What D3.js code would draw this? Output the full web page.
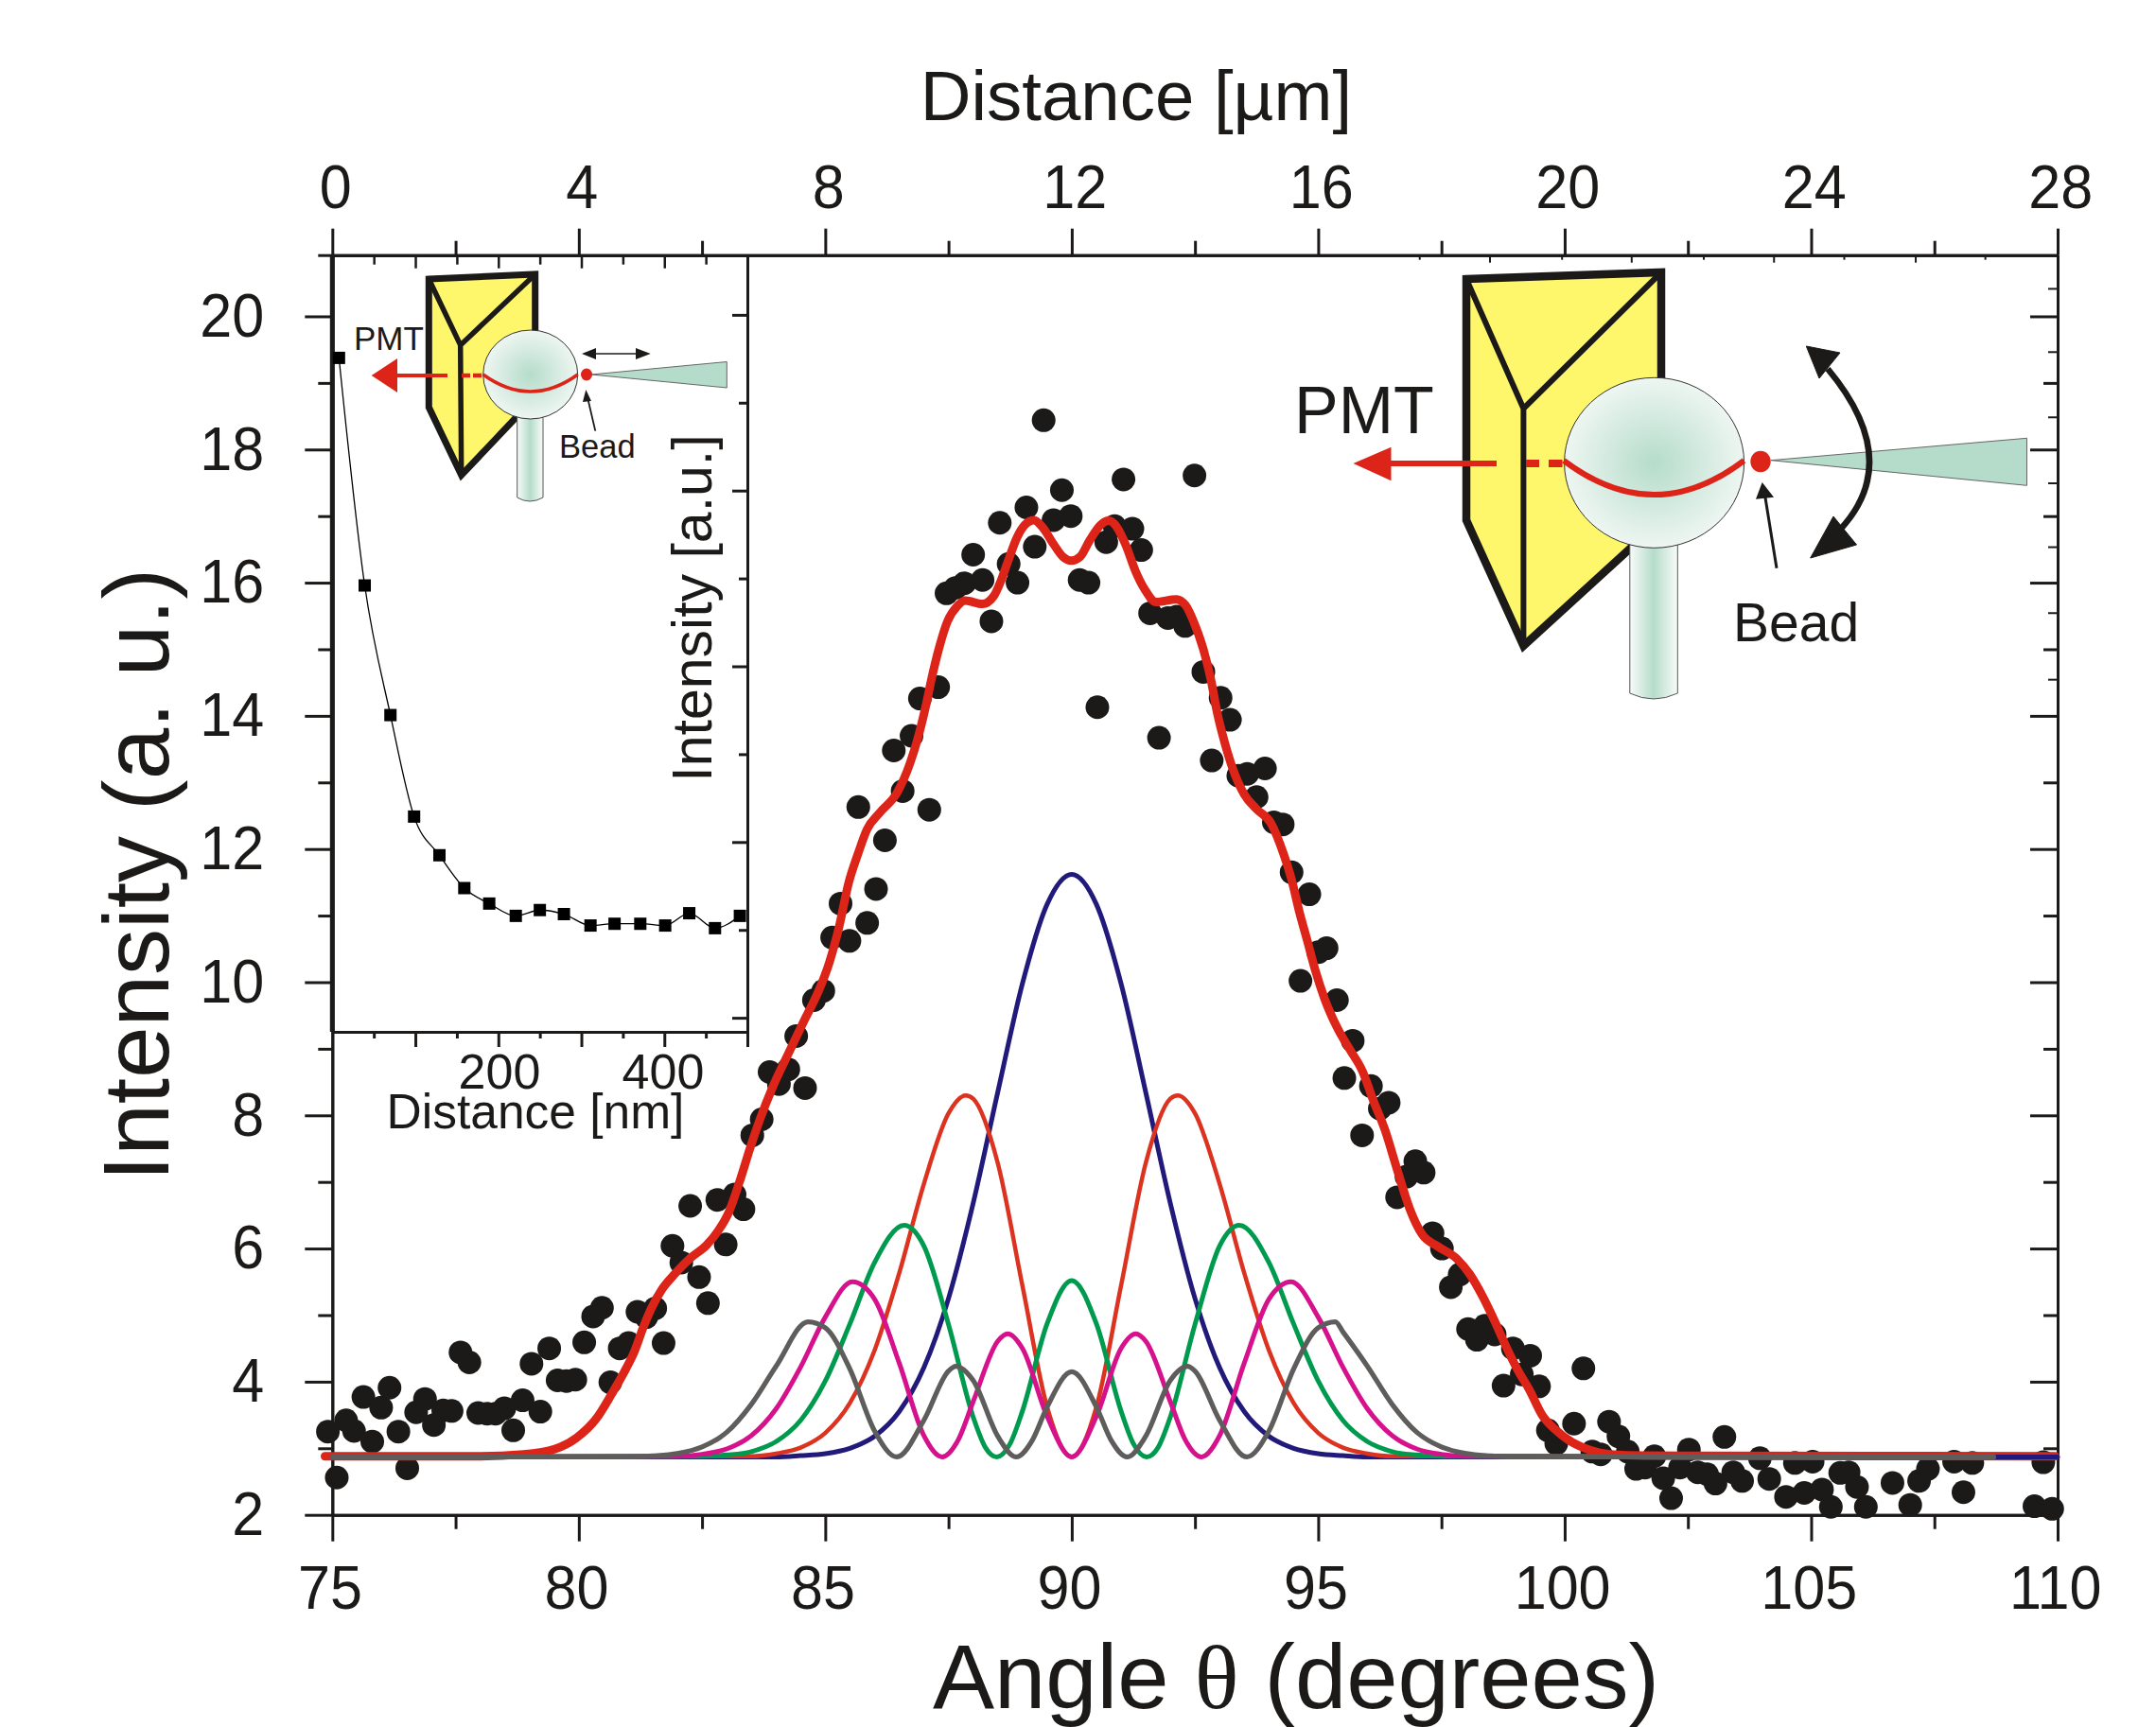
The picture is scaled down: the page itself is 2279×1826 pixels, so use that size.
<!DOCTYPE html>
<html>
<head>
<meta charset="utf-8">
<script src="https://cdn.jsdelivr.net/npm/d3@7/dist/d3.min.js"></script>
<style>
html, body { margin: 0; padding: 0; background: #fff; }
svg { display: block; }
text { font-family: "Liberation Sans", Arial, sans-serif; fill: #1c1a18; }
</style>
</head>
<body>
<svg id="plot" width="2279" height="1826"></svg>
<script>
// tick labels
const angleTicks = [75, 80, 85, 90, 95, 100, 105, 110];
const angleMinorTicks = [77.5, 82.5, 87.5, 92.5, 97.5, 102.5, 107.5];
const distanceTicks = [0, 4, 8, 12, 16, 20, 24, 28];
const distanceMinorTicks = [2, 6, 10, 14, 18, 22, 26];
const intensityTicks = [2, 4, 6, 8, 10, 12, 14, 16, 18, 20];
const intensityMinorTicks = [3, 5, 7, 9, 11, 13, 15, 17, 19];
const insetLongTicks = [100, 200, 300, 400, 500];
const insetShortTicks = [50, 150, 250, 350, 450];
const insetRightLong = [0, 2, 4, 6, 8];
const insetRightShort = [1, 3, 5, 7];
// second set of short ticks left over inside the frame
const ghostRightTicks = [20.42, 19.47, 18.49, 17.5, 16.54, 15.55, 14.55];
const ghostTopLong = [18.78, 21.08, 23.39, 25.69];
const ghostTopShort = [17.64, 19.95, 22.25, 24.53, 26.82];

// measured points
const scatterAngle = [74.91,75.09,75.28,75.44,75.63,75.81,75.99,76.16,76.34,76.52,76.70,76.88,77.06,77.25,77.42,77.60,77.78,77.96,78.14,78.31,78.49,78.67,78.86,79.04,79.22,79.40,79.57,79.75,79.93,80.11,80.29,80.47,80.64,80.83,81.01,81.19,81.37,81.55,81.72,81.90,82.08,82.26,82.44,82.62,82.81,82.98,83.16,83.34,83.52,83.71,83.87,84.06,84.25,84.41,84.59,84.77,84.96,85.14,85.31,85.49,85.67,85.85,86.03,86.21,86.39,86.57,86.75,86.92,87.11,87.29,87.46,87.64,87.82,88.0,88.19,88.37,88.54,88.72,88.90,89.08,89.25,89.43,89.63,89.80,89.98,90.16,90.34,90.52,90.70,90.87,91.05,91.23,91.41,91.59,91.77,91.95,92.13,92.3,92.49,92.67,92.84,93.02,93.21,93.38,93.56,93.75,93.92,94.1,94.28,94.46,94.64,94.82,95.0,95.17,95.38,95.53,95.70,95.89,96.07,96.25,96.43,96.6,96.79,96.97,97.14,97.32,97.51,97.69,97.87,98.04,98.22,98.38,98.58,98.76,98.95,99.13,99.3,99.48,99.66,99.83,100.19,100.38,100.56,100.73,100.9,101.09,101.28,101.45,101.63,101.82,102.0,102.16,102.34,102.52,102.7,102.89,103.06,103.24,103.42,103.6,103.96,104.15,104.49,104.67,104.86,105.03,105.22,105.4,105.59,105.76,105.93,106.11,106.65,107.01,107.19,107.37,107.9,108.09,108.27,109.53,109.71,109.89];
const scatterValue = [3.25,2.56,3.42,3.26,3.77,3.10,3.61,3.91,3.25,2.70,3.54,3.74,3.35,3.57,3.56,4.44,4.29,3.53,3.52,3.52,3.60,3.27,3.72,4.27,3.55,4.50,4.02,4.01,4.03,4.59,4.98,5.11,3.99,4.50,4.58,5.05,4.97,5.10,4.58,6.04,5.79,6.64,5.57,5.18,6.73,6.06,6.81,6.59,7.70,7.94,8.65,8.47,8.69,9.19,8.41,9.73,9.87,10.67,11.18,10.62,12.63,10.89,11.40,12.13,13.48,12.87,13.70,14.26,12.59,14.43,15.84,15.92,15.99,16.42,16.04,15.42,16.90,16.28,16.0,17.13,16.54,18.44,16.94,17.39,17.0,16.04,16.0,14.13,16.61,16.85,17.55,16.81,16.49,15.54,13.67,15.47,15.49,15.35,17.61,14.66,13.33,14.27,13.94,13.1,13.13,12.78,13.21,12.4,12.37,11.65,10.02,11.32,10.45,10.51,9.73,8.56,9.12,7.70,8.44,8.1,8.19,6.77,7.08,7.31,7.14,6.23,6.0,5.42,5.61,4.79,4.63,4.84,4.71,3.94,4.50,4.11,4.39,3.93,3.27,3.07,3.37,4.2,2.95,2.91,3.4,3.18,2.95,2.69,2.71,2.88,2.55,2.25,2.71,2.98,2.64,2.61,2.47,3.17,2.64,2.51,2.85,2.54,2.27,2.78,2.33,2.80,2.38,2.12,2.63,2.64,2.42,2.12,2.48,2.15,2.51,2.69,2.80,2.34,2.78,2.13,2.79,2.09];

// thick red sum curve
const fitAngle = [74.85,77.85,78.88,79.52,79.96,80.35,80.67,80.96,81.12,81.31,81.47,81.69,81.95,82.27,82.59,82.84,83.04,83.26,83.48,83.68,83.93,84.22,84.57,84.86,85.08,85.28,85.47,85.66,85.85,86.11,86.46,86.72,86.88,87.04,87.16,87.32,87.48,87.68,87.84,88.19,88.42,88.57,88.73,88.89,89.05,89.23,89.4,89.63,89.82,89.99,90.17,90.36,90.59,90.75,90.91,91.1,91.29,91.48,91.71,92.12,92.31,92.47,92.67,92.83,92.95,93.11,93.27,93.5,93.75,94.04,94.3,94.46,94.62,94.78,94.94,95.13,95.39,95.64,95.9,96.12,96.35,96.6,96.86,97.11,97.43,97.82,98.07,98.33,98.58,98.81,99.03,99.29,99.55,99.81,100.15,100.49,100.92,101.6,109.95];
const fitValue = [2.88,2.88,2.91,2.99,3.16,3.44,3.82,4.2,4.44,4.82,5.10,5.39,5.62,5.86,6.05,6.28,6.54,7.0,7.52,7.95,8.42,8.88,9.42,9.86,10.29,10.83,11.48,11.92,12.3,12.55,12.85,13.29,13.67,14.15,14.57,15.05,15.42,15.65,15.73,15.68,15.8,16.04,16.37,16.68,16.87,16.94,16.84,16.58,16.39,16.33,16.39,16.63,16.87,16.93,16.84,16.56,16.18,15.9,15.71,15.75,15.66,15.42,15.0,14.52,14.05,13.58,13.2,12.82,12.6,12.39,11.92,11.54,11.05,10.62,10.18,9.75,9.31,8.99,8.66,8.22,7.79,7.19,6.59,6.21,6.03,5.84,5.62,5.29,4.91,4.53,4.2,3.87,3.49,3.28,3.09,2.98,2.91,2.89,2.88];

// thin component curves
const blueAngle = [75,84,84.5,85,85.5,86,86.5,87,87.5,88,88.5,89,89.5,90,90.5,91,91.5,92,92.5,93,93.5,94,94.5,95,95.5,96,110];
const blueValue = [2.87,2.87,2.89,2.92,3.0,3.18,3.55,4.21,5.25,6.68,8.35,9.98,11.17,11.62,11.17,9.98,8.35,6.68,5.25,4.21,3.55,3.18,3.0,2.92,2.89,2.87,2.87];

const redAngle = [75,83.5,84,84.5,85,85.5,86,86.5,87,87.5,87.85,88,88.5,89,89.5,90,90.5,91,91.5,92,92.15,92.5,93,93.5,94,94.5,95,95.5,96,96.5,108.7];
const redValue = [2.87,2.88,2.92,3.01,3.23,3.68,4.47,5.63,6.97,8.03,8.3,8.25,7.28,5.44,3.62,2.87,3.62,5.44,7.28,8.25,8.3,8.03,6.97,5.63,4.47,3.68,3.23,3.01,2.92,2.88,2.87];

const greenAngle = [75,82.5,83,83.5,84,84.5,85,85.5,86,86.6,87,87.5,88,88.25,88.48,88.75,89,89.5,90,90.5,91,91.25,91.52,91.75,92,92.5,93,93.4,94,94.5,95,95.5,96,96.5,97,97.5,108.7];
const greenValue = [2.87,2.88,2.90,2.95,3.10,3.42,4.01,4.87,5.79,6.35,6.04,4.86,3.47,3.01,2.87,3.07,3.56,4.87,5.52,4.87,3.56,3.07,2.87,3.01,3.47,4.86,6.04,6.35,5.79,4.87,4.01,3.42,3.10,2.95,2.90,2.88,2.87];

const magentaAngle = [75,82,82.5,83,83.5,84,84.5,85,85.55,86,86.5,87,87.37,87.7,88,88.5,88.7,89,89.5,90,90.5,91,91.3,91.5,92,92.3,92.63,93,93.5,94,94.45,95,95.5,96,96.5,97,97.5,98,108.7];
const magentaValue = [2.87,2.88,2.91,2.99,3.19,3.59,4.22,4.97,5.5,5.24,4.28,3.19,2.87,3.13,3.70,4.61,4.72,4.50,3.48,2.87,3.48,4.50,4.72,4.61,3.70,3.13,2.87,3.19,4.28,5.24,5.5,4.97,4.22,3.59,3.19,2.99,2.91,2.88,2.87];

const grayAngle = [75,81,81.5,82,82.5,83,83.5,84,84.65,85,85.5,86,86.45,87,87.5,87.65,88,88.5,88.87,89.2,89.5,90,90.5,90.8,91.13,91.5,92,92.35,92.5,93,93.55,94,94.5,95,95.35,95.5,96,96.5,97,97.5,98,98.5,99,108.7];
const grayValue = [2.87,2.87,2.885,2.92,3.02,3.24,3.66,4.23,4.9,4.81,4.19,3.26,2.87,3.42,4.16,4.23,4.02,3.18,2.87,3.12,3.62,4.15,3.62,3.12,2.87,3.18,4.02,4.23,4.16,3.42,2.87,3.26,4.19,4.81,4.9,4.75,4.23,3.66,3.24,3.02,2.92,2.885,2.87,2.87];

// inset points
const insetX = [8,39,70,98.5,129,159,189,221,250,279,311,340,371,401,430,461,491];
const insetY = [7.51,4.92,3.445,2.29,1.85,1.476,1.30,1.16,1.226,1.18,1.05,1.07,1.07,1.05,1.19,1.02,1.16];

const ink = "#1c1a18";
const svg = d3.select("#plot");

const x = d3.scaleLinear().domain([75, 110]).range([351.3, 2175]);
const xTop = d3.scaleLinear().domain([0, 28]).range([351.3, 2175]);
const y = d3.scaleLinear().domain([2, 20.92]).range([1601.7, 269.7]);
const xIn = d3.scaleLinear().domain([0, 500]).range([351.3, 790]);
const yIn = d3.scaleLinear().domain([-0.16, 8.68]).range([1091, 269.7]);

function drawAxis(gen, tx, ty, width) {
    const g = svg.append("g").attr("transform", `translate(${tx},${ty})`).call(gen);
    g.selectAll("line").attr("stroke", ink).attr("stroke-width", width);
    g.select(".domain").attr("stroke", ink).attr("stroke-width", width);
    return g;
}
function noLabels(gen) { return gen.tickFormat("").tickSizeOuter(0); }
// the reference digits are a bit narrower than the font
function styleTicks(sel) {
    sel.attr("font-size", 65).attr("transform", "scale(0.94,1)");
}

// main frame
const bottom = drawAxis(d3.axisBottom(x).tickValues(angleTicks).tickSize(28).tickSizeOuter(0), 0, 1601.7, 3);
bottom.selectAll("text").attr("y", 99.5).attr("dy", 0).attr("dx", -3).call(styleTicks);
drawAxis(noLabels(d3.axisBottom(x).tickValues(angleMinorTicks).tickSize(15)), 0, 1601.7, 3);

const topAxis = drawAxis(d3.axisTop(xTop).tickValues(distanceTicks).tickSize(28).tickSizeOuter(0), 0, 269.7, 3);
topAxis.selectAll("text").attr("y", -50).attr("dy", 0).attr("dx", 3).call(styleTicks);
drawAxis(noLabels(d3.axisTop(xTop).tickValues(distanceMinorTicks).tickSize(15)), 0, 269.7, 3);
drawAxis(noLabels(d3.axisBottom(xTop).tickValues(ghostTopLong).tickSize(8)), 0, 269.7, 2);
drawAxis(noLabels(d3.axisBottom(xTop).tickValues(ghostTopShort).tickSize(5)), 0, 269.7, 2);

const left = drawAxis(d3.axisLeft(y).tickValues(intensityTicks).tickSize(29).tickSizeOuter(0), 351.3, 0, 3);
left.selectAll("text").attr("x", -76.6).call(styleTicks);
drawAxis(noLabels(d3.axisLeft(y).tickValues(intensityMinorTicks.concat([20.92])).tickSize(15)), 351.3, 0, 3);

drawAxis(noLabels(d3.axisLeft(y).tickValues(intensityTicks).tickSize(29)), 2175, 0, 3);
drawAxis(noLabels(d3.axisLeft(y).tickValues(intensityMinorTicks).tickSize(15)), 2175, 0, 3);
drawAxis(noLabels(d3.axisLeft(y).tickValues(ghostRightTicks).tickSize(10)), 2175, 0, 2);

// axis titles
svg.append("text").attr("x", 986).attr("y", 1806).attr("font-size", 96)
    .attr("textLength", 768).attr("lengthAdjust", "spacingAndGlyphs")
    .html('Angle <tspan style="font-family:\'Liberation Serif\',serif">θ</tspan> (degrees)');
svg.append("text").attr("transform", "translate(178,925) rotate(-90)").attr("text-anchor", "middle")
    .attr("font-size", 98).text("Intensity (a. u.)");
svg.append("text").attr("x", 1201).attr("y", 127).attr("text-anchor", "middle")
    .attr("font-size", 74.4).text("Distance [µm]");

// inset frame
drawAxis(noLabels(d3.axisBottom(xIn).tickValues(insetLongTicks).tickSize(16)), 0, 1091, 3);
drawAxis(noLabels(d3.axisBottom(xIn).tickValues(insetShortTicks).tickSize(7)), 0, 1091, 3);
drawAxis(noLabels(d3.axisBottom(xIn).tickValues(insetLongTicks).tickSize(14)), 0, 269.7, 2.5);
drawAxis(noLabels(d3.axisBottom(xIn).tickValues(insetShortTicks).tickSize(10)), 0, 269.7, 2.5);
drawAxis(noLabels(d3.axisLeft(yIn).tickValues(insetRightLong).tickSize(16)), 790, 0, 3);
drawAxis(noLabels(d3.axisLeft(yIn).tickValues(insetRightShort).tickSize(9)), 790, 0, 3);
svg.append("line").attr("x1", 351.3).attr("x2", 351.3).attr("y1", 269.7).attr("y2", 1091)
    .attr("stroke", ink).attr("stroke-width", 5);

svg.append("text").attr("x", 528).attr("y", 1151).attr("text-anchor", "middle").attr("font-size", 52).text("200");
svg.append("text").attr("x", 701).attr("y", 1151).attr("text-anchor", "middle").attr("font-size", 52).text("400");
svg.append("text").attr("x", 566).attr("y", 1193).attr("text-anchor", "middle").attr("font-size", 51.5).text("Distance [nm]");
svg.append("text").attr("transform", "translate(752,643) rotate(-90)").attr("text-anchor", "middle")
    .attr("font-size", 59).text("Intensity [a.u.]");

// inset data
const insetLine = d3.line().x((d, i) => xIn(insetX[i])).y(d => yIn(d)).curve(d3.curveMonotoneX);
svg.append("path").attr("d", insetLine(insetY)).attr("fill", "none").attr("stroke", "#000").attr("stroke-width", 1.3);
svg.append("g").selectAll("rect").data(insetY).join("rect")
    .attr("x", (d, i) => xIn(insetX[i]) - 6.5).attr("y", d => yIn(d) - 6.5)
    .attr("width", 13).attr("height", 13).attr("fill", "#000");

// main scatter
svg.append("g").selectAll("circle").data(scatterValue).join("circle")
    .attr("cx", (d, i) => x(scatterAngle[i])).attr("cy", d => y(d)).attr("r", 12.5).attr("fill", ink);

function drawCurve(angles, values, color, width) {
    const line = d3.line().x((d, i) => x(angles[i])).y(d => y(d)).curve(d3.curveMonotoneX);
    svg.append("path").attr("d", line(values)).attr("fill", "none")
        .attr("stroke", color).attr("stroke-width", width)
        .attr("stroke-linecap", "round").attr("stroke-linejoin", "round");
}
drawCurve(fitAngle, fitValue, "#dd2419", 9);
drawCurve(blueAngle, blueValue, "#211a7a", 5);
drawCurve(redAngle, redValue, "#dc3220", 4.5);
drawCurve(greenAngle, greenValue, "#009a4e", 5);
drawCurve(magentaAngle, magentaValue, "#d6118c", 5);
drawCurve(grayAngle, grayValue, "#5f5d5c", 5.2);

// gradients for the glass sphere and stem
const defs = svg.append("defs");
const ball = defs.append("radialGradient").attr("id", "ball");
ball.append("stop").attr("offset", "0%").attr("stop-color", "#b5dcca");
ball.append("stop").attr("offset", "100%").attr("stop-color", "#eef6f2");
const stem = defs.append("linearGradient").attr("id", "stem");
stem.append("stop").attr("offset", "0%").attr("stop-color", "#f8fbf9");
stem.append("stop").attr("offset", "50%").attr("stop-color", "#b5dcca");
stem.append("stop").attr("offset", "100%").attr("stop-color", "#f8fbf9");

const red = "#dd2419";
const green = "#b5dcca";

// large schematic
const big = svg.append("g");
big.append("path").attr("d", "M1550,295 L1756,288 L1756,550 L1610.4,683 L1550,550 Z")
    .attr("fill", "#fff76b").attr("stroke", ink).attr("stroke-width", 8.5);
big.append("path").attr("d", "M1550,295 L1610.4,432 L1756,288 M1610.4,432 L1610.4,683")
    .attr("fill", "none").attr("stroke", ink).attr("stroke-width", 6);
big.append("path").attr("d", "M1722.8,570 V733 Q1748,745 1773.3,733 V570 Z")
    .attr("fill", "url(#stem)").attr("stroke", "#555").attr("stroke-width", 1);
big.append("ellipse").attr("cx", 1748.6).attr("cy", 489.3).attr("rx", 95).attr("ry", 90)
    .attr("fill", "url(#ball)").attr("stroke", "#333").attr("stroke-width", 1);
big.append("path").attr("d", "M1653,487 Q1748.6,559 1843.5,487").attr("fill", "none").attr("stroke", red).attr("stroke-width", 6);
big.append("path").attr("d", "M1613,490 H1627 M1637,490 H1651.5").attr("stroke", red).attr("stroke-width", 8);
big.append("path").attr("d", "M1470,490 H1582").attr("stroke", red).attr("stroke-width", 6);
big.append("path").attr("d", "M1430.5,490 L1470.5,472.7 V508.3 Z").attr("fill", red);
big.append("path").attr("d", "M1872,486.7 L2142.5,463.3 V513.3 Z").attr("fill", green).attr("stroke", "#666").attr("stroke-width", 1);
big.append("ellipse").attr("cx", 1861).attr("cy", 488).attr("rx", 10.7).attr("ry", 11.3).attr("fill", red);
big.append("path").attr("d", "M1932,390 Q2013,487 1945,560").attr("fill", "none").attr("stroke", ink).attr("stroke-width", 6.5);
big.append("path").attr("d", "M1909.3,366 L1945,373 L1923,400 Z").attr("fill", ink).attr("stroke", ink).attr("stroke-width", 1);
big.append("path").attr("d", "M1913.7,590 L1962.5,576 L1938,546 Z").attr("fill", ink).attr("stroke", ink).attr("stroke-width", 1);
big.append("path").attr("d", "M1878,600.7 L1865,520").attr("stroke", ink).attr("stroke-width", 3);
big.append("path").attr("d", "M1862.7,510 L1875,525.7 L1856,527.7 Z").attr("fill", ink);
big.append("text").attr("x", 1368).attr("y", 458).attr("font-size", 70).text("PMT");
big.append("text").attr("x", 1832).attr("y", 678).attr("font-size", 57).text("Bead");

// small schematic in the inset
const small = svg.append("g");
small.append("path").attr("d", "M453.3,295 L565.7,290 V420 L487.7,502.5 L453.3,430.6 Z")
    .attr("fill", "#fff76b").attr("stroke", ink).attr("stroke-width", 7);
small.append("path").attr("d", "M453.3,295 L486.7,365 L565.7,290 M486.7,365 L487.7,502.5")
    .attr("fill", "none").attr("stroke", ink).attr("stroke-width", 5.5);
small.append("path").attr("d", "M546.7,440 V526 Q560,534 574,526 V440 Z")
    .attr("fill", "url(#stem)").attr("stroke", "#555").attr("stroke-width", 1);
small.append("ellipse").attr("cx", 560.7).attr("cy", 396).attr("rx", 50).attr("ry", 47)
    .attr("fill", "url(#ball)").attr("stroke", "#333").attr("stroke-width", 1);
small.append("path").attr("d", "M510.7,396 Q560.7,432 610.7,396").attr("fill", "none").attr("stroke", red).attr("stroke-width", 3.5);
small.append("path").attr("d", "M488,397 H497 M500,397 H509").attr("stroke", red).attr("stroke-width", 4.5);
small.append("path").attr("d", "M418,397 H473").attr("stroke", red).attr("stroke-width", 4);
small.append("path").attr("d", "M392.7,397 L420,379 V415 Z").attr("fill", red);
small.append("path").attr("d", "M625,396 L768.3,382.5 V410 Z").attr("fill", green).attr("stroke", "#666").attr("stroke-width", 1);
small.append("ellipse").attr("cx", 620).attr("cy", 396).attr("rx", 6).attr("ry", 6.5).attr("fill", red);
small.append("path").attr("d", "M625,374 H678").attr("stroke", ink).attr("stroke-width", 1.5);
small.append("path").attr("d", "M615,374 L630,368 V380 Z M687.7,374 L672,368 V380 Z").attr("fill", ink);
small.append("path").attr("d", "M629.3,455.6 L621,420").attr("stroke", ink).attr("stroke-width", 1.8);
small.append("path").attr("d", "M619.3,412 L625,424 L616,425 Z").attr("fill", ink);
small.append("text").attr("x", 374).attr("y", 370).attr("font-size", 35).text("PMT");
small.append("text").attr("x", 591).attr("y", 484).attr("font-size", 34.5).text("Bead");
</script>
</body>
</html>
